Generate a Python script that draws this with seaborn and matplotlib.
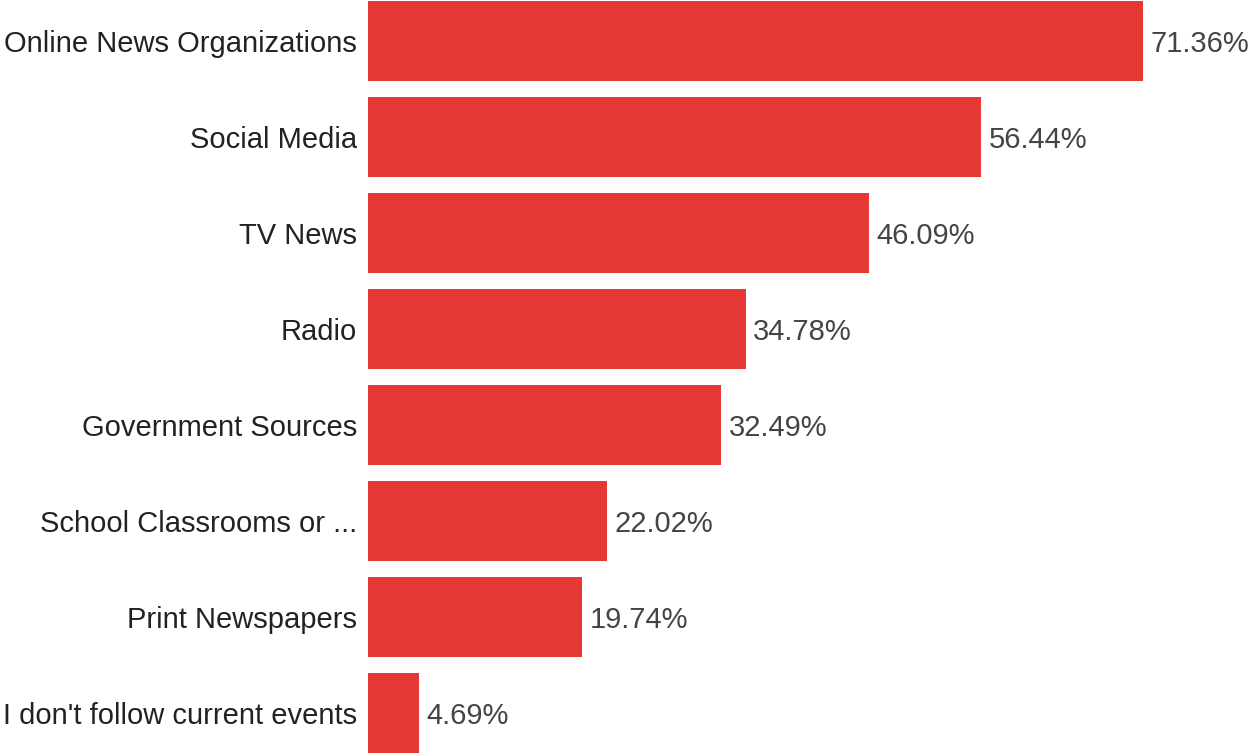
import matplotlib
matplotlib.use("Agg")
import matplotlib.pyplot as plt
import seaborn as sns
import pandas as pd

categories = [
    "Online News Organizations",
    "Social Media",
    "TV News",
    "Radio",
    "Government Sources",
    "School Classrooms or ...",
    "Print Newspapers",
    "I don't follow current events",
]
percentages = [71.36, 56.44, 46.09, 34.78, 32.49, 22.02, 19.74, 4.69]

df = pd.DataFrame({"source": categories, "pct": percentages})

sns.set_theme(style="white")
plt.rcParams["font.family"] = ["Liberation Sans", "DejaVu Sans"]

W, H = 1250, 753
fig = plt.figure(figsize=(W / 100, H / 100), dpi=100)
left_px = 368
ax = fig.add_axes([left_px / W, 0, 1 - left_px / W, 1])

bar_color = "#E53935"
sns.barplot(data=df, x="pct", y="source", orient="h", color=bar_color,
            width=80 / 96, saturation=1, linewidth=0, ax=ax)

px_per_unit = (1143 - left_px) / 71.36
ax.set_xlim(0, (W - left_px) / px_per_unit)
# 96 px per category slot; first bar top at y=1, last bar bottom at y=753
top = -(40 / 96) - 1 / 96
ax.set_ylim(top + H / 96, top)

FS = 21
for i, v in enumerate(percentages):
    ax.text(v + 0.7, i, f"{v:.2f}%", va="center_baseline", ha="left",
            fontsize=FS, color="#444444")

ax.set_xlabel("")
ax.set_ylabel("")
ax.set_xticks([])
ax.tick_params(axis="y", length=0, pad=8, labelsize=FS, labelcolor="#222222")
for s in ax.spines.values():
    s.set_visible(False)

fig.savefig("out.png", dpi=100)
